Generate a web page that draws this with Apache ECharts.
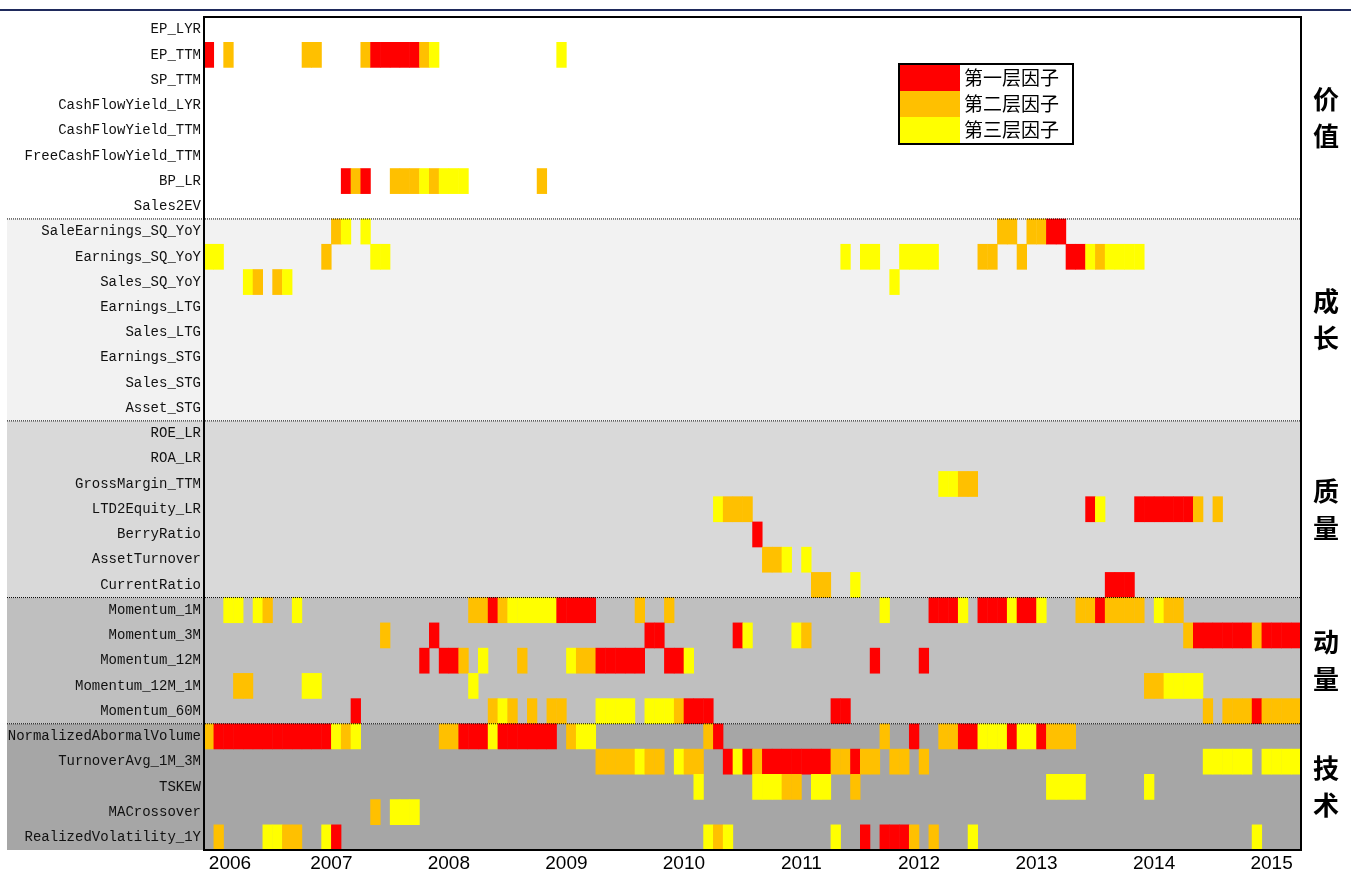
<!DOCTYPE html>
<html><head><meta charset="utf-8">
<script src="https://cdn.jsdelivr.net/npm/echarts@6/dist/echarts.min.js"></script>
<style>html,body{margin:0;padding:0;background:#fff}#c{width:1351px;height:874px}</style>
</head><body><div id="c"></div>
<script>
// ---------- data ----------
const startYear = 2005, startMonth = 12, monthCount = 112;   // Dec 2005 .. Mar 2015
const yearLabels = ['2006','2007','2008','2009','2010','2011','2012','2013','2014','2015'];
const yearTickPos = [2.65, 13, 25, 37, 49, 61, 73, 85, 97, 109]; // in months from start
const levelNames = ['第一层因子','第二层因子','第三层因子'];
const levelColors = ['#ff0000','#ffc000','#ffff00'];
const groupNames = ['价值','成长','质量','动量','技术'];
const groupColors = ['#ffffff','#f2f2f2','#d9d9d9','#bfbfbf','#a6a6a6'];

const valueFactors = ['EP_LYR','EP_TTM','SP_TTM','CashFlowYield_LYR','CashFlowYield_TTM','FreeCashFlowYield_TTM','BP_LR','Sales2EV'];
const growthFactors = ['SaleEarnings_SQ_YoY','Earnings_SQ_YoY','Sales_SQ_YoY','Earnings_LTG','Sales_LTG','Earnings_STG','Sales_STG','Asset_STG'];
const qualityFactors = ['ROE_LR','ROA_LR','GrossMargin_TTM','LTD2Equity_LR','BerryRatio','AssetTurnover','CurrentRatio'];
const momentumFactors = ['Momentum_1M','Momentum_3M','Momentum_12M','Momentum_12M_1M','Momentum_60M'];
const technicalFactors = ['NormalizedAbormalVolume','TurnoverAvg_1M_3M','TSKEW','MACrossover','RealizedVolatility_1Y'];

// [monthIndex, level]  level 1 = 第一层, 2 = 第二层, 3 = 第三层
const valueSel = [
  [],
  [[0,1],[2,2],[10,2],[11,2],[16,2],[17,1],[18,1],[19,1],[20,1],[21,1],[22,2],[23,3],[36,3]],
  [], [], [], [],
  [[14,1],[15,2],[16,1],[19,2],[20,2],[21,2],[22,3],[23,2],[24,3],[25,3],[26,3],[34,2]],
  []
];
const growthSel = [
  [[13,2],[14,3],[16,3],[81,2],[82,2],[84,2],[85,2],[86,1],[87,1]],
  [[0,3],[1,3],[12,2],[17,3],[18,3],[65,3],[67,3],[68,3],[71,3],[72,3],[73,3],[74,3],[79,2],[80,2],[83,2],[88,1],[89,1],[90,3],[91,2],[92,3],[93,3],[94,3],[95,3]],
  [[4,3],[5,2],[7,2],[8,3],[70,3]],
  [], [], [], [], []
];
const qualitySel = [
  [], [],
  [[75,3],[76,3],[77,2],[78,2]],
  [[52,3],[53,2],[54,2],[55,2],[90,1],[91,3],[95,1],[96,1],[97,1],[98,1],[99,1],[100,1],[101,2],[103,2]],
  [[56,1]],
  [[57,2],[58,2],[59,3],[61,3]],
  [[62,2],[63,2],[66,3],[92,1],[93,1],[94,1]]
];
const momentumSel = [
  [[2,3],[3,3],[5,3],[6,2],[9,3],[27,2],[28,2],[29,1],[30,2],[31,3],[32,3],[33,3],[34,3],[35,3],[36,1],[37,1],[38,1],[39,1],[44,2],[47,2],[69,3],[74,1],[75,1],[76,1],[77,3],[79,1],[80,1],[81,1],[82,3],[83,1],[84,1],[85,3],[89,2],[90,2],[91,1],[92,2],[93,2],[94,2],[95,2],[97,3],[98,2],[99,2]],
  [[18,2],[23,1],[45,1],[46,1],[54,1],[55,3],[60,3],[61,2],[100,2],[101,1],[102,1],[103,1],[104,1],[105,1],[106,1],[107,2],[108,1],[109,1],[110,1],[111,1]],
  [[22,1],[24,1],[25,1],[26,2],[28,3],[32,2],[37,3],[38,2],[39,2],[40,1],[41,1],[42,1],[43,1],[44,1],[47,1],[48,1],[49,3],[68,1],[73,1]],
  [[3,2],[4,2],[10,3],[11,3],[27,3],[96,2],[97,2],[98,3],[99,3],[100,3],[101,3]],
  [[15,1],[29,2],[30,3],[31,2],[33,2],[35,2],[36,2],[40,3],[41,3],[42,3],[43,3],[45,3],[46,3],[47,3],[48,2],[49,1],[50,1],[51,1],[64,1],[65,1],[102,2],[104,2],[105,2],[106,2],[107,1],[108,2],[109,2],[110,2],[111,2]]
];
const technicalSel = [
  [[0,2],[1,1],[2,1],[3,1],[4,1],[5,1],[6,1],[7,1],[8,1],[9,1],[10,1],[11,1],[12,1],[13,3],[14,2],[15,3],[24,2],[25,2],[26,1],[27,1],[28,1],[29,3],[30,1],[31,1],[32,1],[33,1],[34,1],[35,1],[37,2],[38,3],[39,3],[51,2],[52,1],[69,2],[72,1],[75,2],[76,2],[77,1],[78,1],[79,3],[80,3],[81,3],[82,1],[83,3],[84,3],[85,1],[86,2],[87,2],[88,2]],
  [[40,2],[41,2],[42,2],[43,2],[44,3],[45,2],[46,2],[48,3],[49,2],[50,2],[53,1],[54,3],[55,1],[56,2],[57,1],[58,1],[59,1],[60,1],[61,1],[62,1],[63,1],[64,2],[65,2],[66,1],[67,2],[68,2],[70,2],[71,2],[73,2],[102,3],[103,3],[104,3],[105,3],[106,3],[108,3],[109,3],[110,3],[111,3]],
  [[50,3],[56,3],[57,3],[58,3],[59,2],[60,2],[62,3],[63,3],[66,2],[86,3],[87,3],[88,3],[89,3],[96,3]],
  [[17,2],[19,3],[20,3],[21,3]],
  [[1,2],[6,3],[7,3],[8,2],[9,2],[12,3],[13,1],[51,3],[52,2],[53,3],[64,3],[67,1],[69,1],[70,1],[71,1],[72,2],[74,2],[78,3],[107,3]]
];

// ---------- build ----------
const months = [];
for (let i = 0; i < monthCount; i++) {
  const t = (startYear * 12 + startMonth - 1) + i;
  months.push(Math.floor(t / 12) + '-' + String(t % 12 + 1).padStart(2, '0'));
}
const groups = [valueFactors, growthFactors, qualityFactors, momentumFactors, technicalFactors];
const groupSel = [valueSel, growthSel, qualitySel, momentumSel, technicalSel];
const factors = [].concat(...groups);
const selections = [].concat(...groupSel);
const data = [];
selections.forEach((row, yi) => row.forEach(([m, lv]) => data.push([m, yi, lv])));

const chart = echarts.init(document.getElementById('c'));
const option = {
  animation: false,
  backgroundColor: 'transparent',
  grid: { left: 204, right: 50, top: 17, bottom: 24, show: true, borderColor: '#000', borderWidth: 2, backgroundColor: 'transparent', z: 5 },
  xAxis: [
    { type: 'category', data: months, show: false, boundaryGap: true },
    { type: 'value', min: 0, max: monthCount, position: 'bottom',
      axisLine: { show: false }, axisTick: { show: false }, splitLine: { show: false },
      axisLabel: { customValues: yearTickPos, formatter: v => yearLabels[yearTickPos.indexOf(v)] || '',
        fontSize: 19, color: '#000', fontFamily: 'Liberation Sans', margin: 4 } }
  ],
  yAxis: { type: 'category', data: factors, inverse: true,
    axisLine: { show: false }, axisTick: { show: false }, splitLine: { show: false },
    axisLabel: { fontFamily: 'Liberation Mono', fontSize: 14, color: '#111', margin: 3 } },
  visualMap: {
    type: 'piecewise', dimension: 2, seriesIndex: 0,
    pieces: levelNames.map((n, i) => ({ value: i + 1, label: n, color: levelColors[i] })),
    orient: 'vertical', left: 898, top: 63, itemWidth: 60, itemHeight: 26, itemGap: 0,
    itemSymbol: 'rect', textGap: 4, selectedMode: false, hoverLink: false,
    align: 'left', inverse: true,
    backgroundColor: '#fff', borderColor: '#000', borderWidth: 2, padding: [1, 14, 1, 1],
    textStyle: { fontSize: 19, color: '#000', fontFamily: 'Noto Sans CJK SC' }
  },
  series: [{ type: 'heatmap', xAxisIndex: 0, yAxisIndex: 0, data: data, itemStyle: { borderWidth: 0 }, emphasis: { disabled: true } }]
};
chart.setOption(option);

// decorations derived from the axes
const yc = i => chart.convertToPixel({ yAxisIndex: 0 }, factors[i]);
const rh = yc(1) - yc(0);
const xRight = chart.convertToPixel({ xAxisIndex: 1 }, monthCount);
const elems = [];
let s = 0;
groups.forEach((g, gi) => {
  const top = yc(s) - rh / 2, bottom = yc(s + g.length - 1) + rh / 2;
  elems.push({ type: 'rect', z: -10, shape: { x: 7, y: top, width: xRight - 7, height: bottom - top }, style: { fill: groupColors[gi] } });
  if (gi > 0) elems.push({ type: 'line', z: 100, shape: { x1: 7, y1: top, x2: xRight, y2: top }, style: { stroke: '#000', lineWidth: 1, lineDash: [1, 1] } });
  elems.push({ type: 'text', z: 100, x: xRight + 25, y: (top + bottom) / 2,
    style: { text: groupNames[gi].split('').join('\n'), fill: '#000', font: 'bold 26px "Noto Sans CJK SC"', lineHeight: 37, align: 'center', verticalAlign: 'middle' } });
  s += g.length;
});
elems.push({ type: 'line', z: 100, shape: { x1: 0, y1: 10, x2: 1351, y2: 10 }, style: { stroke: '#1f2a5c', lineWidth: 2 } });
chart.setOption({ graphic: { elements: elems } });
</script></body></html>
